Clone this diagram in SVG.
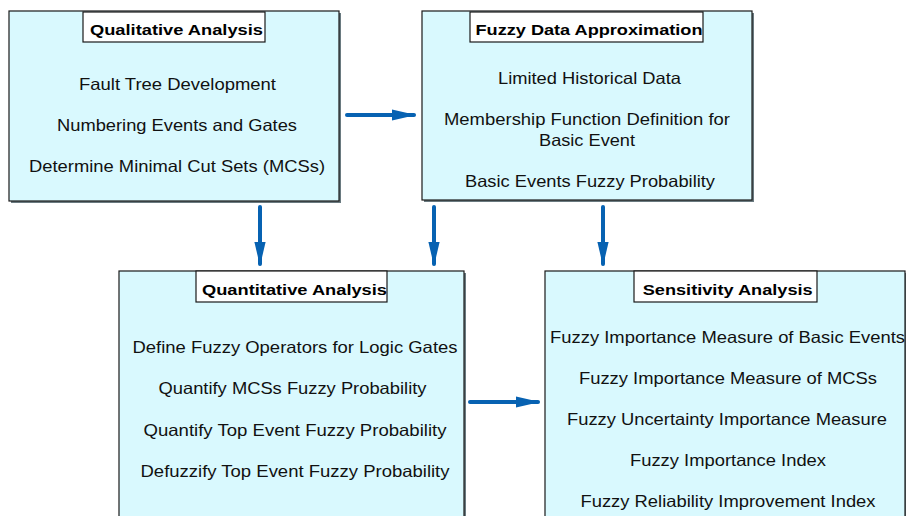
<svg xmlns="http://www.w3.org/2000/svg" width="906" height="516" viewBox="0 0 906 516">
<defs>
<marker id="ah" markerWidth="6" markerHeight="4" refX="5.5" refY="2" orient="auto" markerUnits="strokeWidth">
<path d="M0,0.6 L6,2 L0,3.4 Z" fill="#0762B2"/>
</marker>
</defs>
<style>
.box{fill:#D9F9FE;stroke:#1a1a1a;stroke-width:1.2}
.sh{fill:none;stroke:#6a7a80;stroke-width:2}
.tbox{fill:#ffffff;stroke:#1a1a1a;stroke-width:1.2}
.t{font-family:"Liberation Sans",Arial,sans-serif;font-size:16.5px;fill:#111;text-anchor:middle}
.h{font-family:"Liberation Sans",Arial,sans-serif;font-size:15.5px;font-weight:bold;fill:#000;text-anchor:middle}
.c{stroke:#0762B2;stroke-width:4;fill:none;stroke-linecap:round;marker-end:url(#ah)}
</style>
<rect width="906" height="516" fill="#ffffff"/>
<g id="qualitative">
<path class="sh" d="M340,13 V202 H11"/>
<rect class="box" x="9" y="11" width="330" height="190"/>
<rect class="tbox" x="83" y="12" width="182" height="30"/>
<text class="h" x="176.5" y="35" textLength="173" lengthAdjust="spacingAndGlyphs">Qualitative Analysis</text>
<text class="t" x="177.5" y="90" textLength="197" lengthAdjust="spacingAndGlyphs">Fault Tree Development</text>
<text class="t" x="177" y="131" textLength="240" lengthAdjust="spacingAndGlyphs">Numbering Events and Gates</text>
<text class="t" x="177" y="172" textLength="296" lengthAdjust="spacingAndGlyphs">Determine Minimal Cut Sets (MCSs)</text>
</g>
<g id="fuzzydata">
<path class="sh" d="M753,13 V201 H424"/>
<rect class="box" x="422" y="11" width="330" height="189"/>
<rect class="tbox" x="470" y="12" width="233" height="30"/>
<text class="h" x="589" y="35" textLength="227" lengthAdjust="spacingAndGlyphs">Fuzzy Data Approximation</text>
<text class="t" x="589.5" y="84" textLength="183" lengthAdjust="spacingAndGlyphs">Limited Historical Data</text>
<text class="t" x="587" y="125" textLength="286" lengthAdjust="spacingAndGlyphs">Membership Function Definition for</text>
<text class="t" x="587" y="146" textLength="96" lengthAdjust="spacingAndGlyphs">Basic Event</text>
<text class="t" x="590" y="187" textLength="250" lengthAdjust="spacingAndGlyphs">Basic Events Fuzzy Probability</text>
</g>
<g id="quantitative">
<path class="sh" d="M465,273 V516"/>
<rect class="box" x="119" y="271" width="345" height="250"/>
<rect class="tbox" x="196" y="271" width="191" height="31"/>
<text class="h" x="294.5" y="295" textLength="185" lengthAdjust="spacingAndGlyphs">Quantitative Analysis</text>
<text class="t" x="295" y="353" textLength="325" lengthAdjust="spacingAndGlyphs">Define Fuzzy Operators for Logic Gates</text>
<text class="t" x="292.5" y="394" textLength="268" lengthAdjust="spacingAndGlyphs">Quantify MCSs Fuzzy Probability</text>
<text class="t" x="295" y="436" textLength="303" lengthAdjust="spacingAndGlyphs">Quantify Top Event Fuzzy Probability</text>
<text class="t" x="295" y="477" textLength="309" lengthAdjust="spacingAndGlyphs">Defuzzify Top Event Fuzzy Probability</text>
</g>
<g id="sensitivity">
<path class="sh" d="M906,273 V516"/>
<rect class="box" x="545" y="271" width="360" height="250"/>
<rect class="tbox" x="634" y="271" width="183" height="31"/>
<text class="h" x="727.7" y="295" textLength="170" lengthAdjust="spacingAndGlyphs">Sensitivity Analysis</text>
<text class="t" x="727.5" y="343" textLength="355" lengthAdjust="spacingAndGlyphs">Fuzzy Importance Measure of Basic Events</text>
<text class="t" x="728" y="384" textLength="298" lengthAdjust="spacingAndGlyphs">Fuzzy Importance Measure of MCSs</text>
<text class="t" x="727" y="425" textLength="320" lengthAdjust="spacingAndGlyphs">Fuzzy Uncertainty Importance Measure</text>
<text class="t" x="728" y="466" textLength="196" lengthAdjust="spacingAndGlyphs">Fuzzy Importance Index</text>
<text class="t" x="728" y="507" textLength="295" lengthAdjust="spacingAndGlyphs">Fuzzy Reliability Improvement Index</text>
</g>
<g id="connectors">
<line class="c" x1="347" y1="115" x2="414" y2="115"/>
<line class="c" x1="260" y1="207" x2="260" y2="264"/>
<line class="c" x1="434" y1="207" x2="434" y2="264"/>
<line class="c" x1="603" y1="207" x2="603" y2="264"/>
<line class="c" x1="470" y1="402" x2="538" y2="402"/>
</g>
</svg>
